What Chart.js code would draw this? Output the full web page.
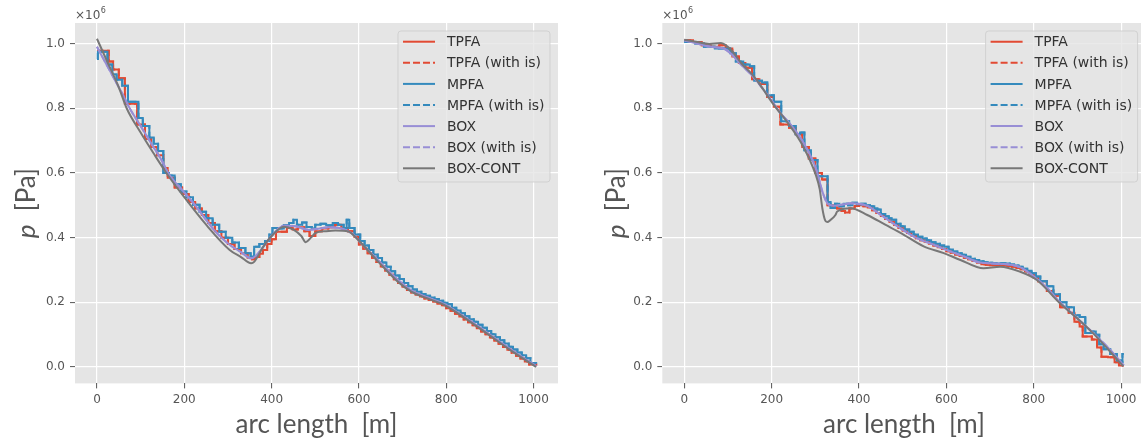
<!DOCTYPE html>
<html lang="en">
<head>
<meta charset="UTF-8">
<title>Pressure along arc length</title>
<script src="https://cdn.jsdelivr.net/npm/chart.js"></script>
<style>
    html, body { margin: 0; padding: 0; background: #fff; overflow: hidden; width: 1141px; height: 444px; }
    .panel { position: absolute; top: 0; height: 444px; }
    #left { left: 0; width: 570px; }
    #right { left: 590px; width: 560px; }
</style>
</head>
<body>
<div class="panel" id="left"><canvas id="chaLeft" width="570" height="444"></canvas></div>
<div class="panel" id="right"><canvas id="chaRight" width="560" height="444"></canvas></div>

<script>
// tick labels
const xTickValues = [0, 200, 400, 600, 800, 1000];
const yTickValues = [0.0, 0.2, 0.4, 0.6, 0.8, 1.0];

const seriesNames = ['TPFA', 'TPFA (with is)', 'MPFA', 'MPFA (with is)', 'BOX', 'BOX (with is)', 'BOX-CONT'];

// left panel: [arc length (m), p (x1e6 Pa)]
const leftTpfa = [[0,0.978],[27,0.945],[37,0.92],[50,0.893],[64,0.814],[92,0.75],[110,0.705],[124,0.68],[138,0.655],[152,0.615],[162,0.585],[178,0.555],[195,0.535],[210,0.51],[225,0.49],[240,0.47],[255,0.445],[270,0.42],[285,0.4],[300,0.38],[315,0.365],[330,0.352],[345,0.338],[355,0.333],[362,0.34],[372,0.35],[380,0.362],[390,0.38],[400,0.395],[410,0.418],[422,0.418],[435,0.43],[448,0.425],[460,0.432],[475,0.42],[487,0.405],[500,0.42],[515,0.428],[530,0.432],[545,0.44],[560,0.43],[575,0.42],[590,0.403],
    [600,0.379],[610,0.366],[620,0.352],[630,0.338],[640,0.325],[650,0.311],[660,0.298],[670,0.285],[680,0.271],[690,0.26],[700,0.249],[710,0.238],[720,0.23],[730,0.224],[740,0.218],[750,0.212],[760,0.207],[770,0.202],[780,0.196],[790,0.191],[800,0.182],[810,0.174],[820,0.165],[830,0.156],[840,0.147],[850,0.138],[860,0.129],[870,0.12],[880,0.11],[890,0.101],[900,0.091],[910,0.081],[920,0.072],[930,0.062],[940,0.053],[950,0.044],[960,0.035],[970,0.026],[980,0.017],[990,0.008],[1006,0.004]];
const leftMpfa = [[0,0.952],[2,0.975],[24,0.935],[35,0.905],[45,0.888],[58,0.87],[71,0.82],[95,0.77],[105,0.745],[120,0.71],[130,0.69],[140,0.668],[152,0.6],[165,0.592],[178,0.565],[192,0.543],[205,0.525],[220,0.502],[235,0.48],[250,0.46],[265,0.44],[280,0.418],[295,0.4],[310,0.385],[325,0.368],[340,0.352],[352,0.342],[360,0.372],[372,0.38],[385,0.39],[395,0.41],[402,0.43],[415,0.428],[428,0.438],[440,0.445],[450,0.455],[458,0.44],[470,0.447],[480,0.433],[492,0.428],[500,0.44],[512,0.443],[525,0.438],[540,0.445],[552,0.44],[565,0.43],[572,0.455],[578,0.43],[590,0.41],
    [603,0.39],[613,0.376],[623,0.362],[633,0.348],[643,0.337],[653,0.323],[663,0.31],[673,0.296],[683,0.283],[693,0.272],[703,0.26],[713,0.25],[723,0.24],[733,0.233],[743,0.226],[753,0.22],[763,0.215],[773,0.21],[783,0.205],[793,0.199],[803,0.194],[813,0.183],[823,0.175],[833,0.166],[843,0.157],[853,0.148],[863,0.14],[873,0.131],[883,0.121],[893,0.111],[903,0.101],[913,0.092],[923,0.083],[933,0.073],[943,0.063],[953,0.054],[963,0.045],[973,0.036],[983,0.027],[993,0.012],[1006,0.01]];
const leftBox = [[0,0.99],[20,0.94],[40,0.89],[60,0.84],[75,0.8],[100,0.745],[125,0.69],[150,0.635],[163,0.6],[200,0.54],[225,0.5],[250,0.455],[268,0.424],[285,0.4],[304,0.378],[330,0.355],[353,0.336],[365,0.345],[380,0.37],[400,0.405],[428,0.437],[455,0.435],[485,0.424],[510,0.428],[531,0.432],[555,0.43],[572,0.422],[587,0.41],[600,0.39],[644,0.33],[689,0.27],[720,0.237],[757,0.215],[795,0.195],[830,0.165],[871,0.128],[910,0.09],[946,0.056],[980,0.025],[1006,0.003]];
const leftCont = [[0,1.015],[25,0.94],[50,0.865],[68,0.8],[100,0.725],[130,0.66],[159,0.6],[200,0.525],[250,0.44],[304,0.362],[330,0.34],[353,0.321],[360,0.325],[380,0.37],[400,0.405],[428,0.434],[450,0.425],[468,0.405],[478,0.386],[490,0.4],[500,0.414],[525,0.42],[546,0.422],[576,0.419],[591,0.403],[644,0.326],[689,0.264],[720,0.233],[757,0.212],[795,0.192],[871,0.125],[946,0.053],[1006,0.0]];

// right panel
const rightTpfa = [[0,1.01],[20,1.005],[40,0.995],[60,0.99],[80,0.995],[95,0.985],[110,0.96],[125,0.94],[140,0.925],[155,0.89],[172,0.875],[190,0.835],[205,0.805],[220,0.75],[240,0.74],[255,0.72],[270,0.68],[285,0.645],[300,0.6],[315,0.58],
    [328,0.5],[340,0.493],[350,0.49],[360,0.482],[368,0.478],[378,0.49],[390,0.498],[400,0.5],[410,0.497],[420,0.493],[430,0.485],[440,0.476],[450,0.467],[460,0.458],[470,0.449],[480,0.44],[490,0.43],[500,0.422],[510,0.414],[520,0.406],[530,0.398],[540,0.392],[550,0.387],[560,0.382],[570,0.376],[580,0.37],[590,0.365],[600,0.358],[610,0.353],[620,0.348],[630,0.343],[640,0.338],[650,0.333],[660,0.328],[670,0.323],[680,0.318],[690,0.316],[700,0.315],[710,0.315],[720,0.315],[730,0.314],[740,0.312],[750,0.31],[760,0.306],[770,0.302],[780,0.295],[790,0.287],[800,0.277],
    [810,0.265],[830,0.235],[845,0.22],[860,0.185],[880,0.168],[893,0.14],[905,0.125],[912,0.094],[933,0.085],[945,0.06],[955,0.032],[970,0.03],[985,0.015],[995,0.005],[1006,0.005]];
const rightMpfa = [[0,1.005],[25,1.0],[45,0.99],[70,0.985],[90,0.985],[105,0.97],[118,0.945],[135,0.935],[150,0.93],[160,0.885],[178,0.88],[190,0.84],[205,0.82],[222,0.76],[240,0.745],[255,0.72],[265,0.725],[275,0.67],[290,0.64],[305,0.59],[318,0.59],
    [328,0.51],[335,0.492],[345,0.505],[355,0.497],[365,0.505],[375,0.5],[385,0.508],[395,0.503],[405,0.505],[415,0.5],[425,0.497],[435,0.49],[442,0.487],[450,0.473],[460,0.466],[468,0.46],[475,0.455],[485,0.443],[495,0.435],[505,0.425],[515,0.418],[525,0.41],[535,0.403],[545,0.397],[555,0.392],[565,0.386],[575,0.381],[585,0.376],[595,0.372],[605,0.363],[615,0.357],[625,0.352],[635,0.347],[645,0.341],[655,0.335],[665,0.331],[675,0.327],[685,0.324],[695,0.322],[705,0.321],[715,0.32],[725,0.321],[735,0.32],[745,0.317],[755,0.314],[765,0.31],[775,0.304],[785,0.298],[795,0.29],[805,0.28],
    [815,0.265],[830,0.25],[845,0.225],[860,0.2],[875,0.185],[892,0.16],[905,0.155],[918,0.105],[935,0.11],[942,0.1],[950,0.07],[960,0.055],[975,0.04],[990,0.02],[1000,0.015],[1003,0.04],[1006,0.04]];
const rightBox = [[0,1.01],[30,1.0],[60,0.99],[90,0.985],[110,0.965],[130,0.935],[156,0.9],[180,0.86],[202,0.82],[220,0.785],[240,0.755],[270,0.7],[301,0.615],[316,0.543],[324,0.515],[331,0.502],[345,0.499],[365,0.503],[381,0.506],[419,0.498],[450,0.47],[496,0.428],[530,0.4],[571,0.378],[600,0.362],[640,0.342],[677,0.323],[723,0.319],[768,0.309],[800,0.28],[830,0.245],[860,0.2],[900,0.15],[936,0.105],[970,0.06],[1006,0.005]];
const rightCont = [[0,1.012],[30,1.005],[57,0.999],[84,1.002],[107,0.981],[130,0.94],[156,0.904],[180,0.86],[202,0.816],[240,0.749],[270,0.687],[301,0.594],[310,0.55],[316,0.491],[322,0.455],[327,0.448],[335,0.455],[346,0.47],[350,0.481],[381,0.491],[419,0.47],[460,0.44],[496,0.414],[548,0.373],[594,0.352],[632,0.331],[685,0.305],[723,0.31],[768,0.295],[807,0.269],[860,0.197],[900,0.15],[936,0.104],[970,0.055],[1005,0.002]];

const seriesColors = ['#E24A33', '#E24A33', '#348ABD', '#348ABD', '#988ED5', '#988ED5', '#777777'];
const seriesDashed = [false, true, false, true, false, true, false];

const panelDecor = {
    id: 'panelDecor',
    beforeDraw(chart) {
        const a = chart.chartArea, ctx = chart.ctx;
        ctx.save();
        ctx.fillStyle = '#E5E5E5';
        ctx.fillRect(a.left, a.top, a.right - a.left, a.bottom - a.top);
        ctx.restore();
    },
    afterDatasetsDraw(chart) {
        // legend box, upper right
        const a = chart.chartArea, ctx = chart.ctx;
        const bw = 152, bh = 151;
        const bx = a.right - 8 - bw, by = a.top + 8;
        ctx.save();
        ctx.beginPath();
        ctx.roundRect(bx, by, bw, bh, 3);
        ctx.fillStyle = 'rgba(229,229,229,0.8)';
        ctx.fill();
        ctx.strokeStyle = 'rgba(204,204,204,0.8)';
        ctx.lineWidth = 1;
        ctx.stroke();
        ctx.font = '14px "DejaVu Sans"';
        ctx.textBaseline = 'middle';
        chart.data.datasets.forEach((ds, i) => {
            const y = by + 10.7 + i * 21.1;
            ctx.beginPath();
            ctx.setLineDash(ds.borderDash);
            ctx.strokeStyle = ds.borderColor;
            ctx.lineWidth = 2;
            ctx.moveTo(bx + 5, y);
            ctx.lineTo(bx + 37, y);
            ctx.stroke();
            ctx.setLineDash([]);
            ctx.fillStyle = '#333333';
            ctx.fillText(ds.label, bx + 49, y + 1);
        });
        ctx.restore();
    },
    afterDraw(chart) {
        const a = chart.chartArea, ctx = chart.ctx;
        ctx.save();
        ctx.fillStyle = '#555555';
        // offset text
        ctx.font = '12px "DejaVu Sans"';
        ctx.textBaseline = 'alphabetic';
        ctx.fillText('\u00d710', a.left, 19);
        const w = ctx.measureText('\u00d710').width;
        ctx.font = '8px "DejaVu Sans"';
        ctx.fillText('6', a.left + w + 0.5, 13);

        // x title
        ctx.font = '26px Lato';
        ctx.textAlign = 'center';
        ctx.fillText('arc length  [m]', (a.left + a.right) / 2, 433);

        // y title, italic p
        ctx.translate(35, (a.top + a.bottom) / 2);
        ctx.rotate(-Math.PI / 2);
        ctx.textAlign = 'left';
        ctx.font = 'italic 26px Lato';
        const wp = ctx.measureText('p').width;
        ctx.font = '26px Lato';
        const wr = ctx.measureText('  [Pa]').width;
        const x0 = -(wp + wr) / 2;
        ctx.font = 'italic 26px Lato';
        ctx.fillText('p', x0, 0);
        ctx.font = '26px Lato';
        ctx.fillText('  [Pa]', x0 + wp, 0);
        ctx.restore();
    }
};

function makePanel(canvasId, lists, axisWidth, padRight) {
    const datasets = lists.map((pts, i) => ({
        label: seriesNames[i],
        data: pts.map(p => ({ x: p[0], y: p[1] })),
        borderColor: seriesColors[i],
        borderWidth: 2,
        borderDash: seriesDashed[i] ? [7, 3] : [],
        stepped: i < 4,
        cubicInterpolationMode: i >= 4 ? 'monotone' : 'default',
        pointRadius: 0,
        fill: false,
        order: lists.length - i
    }));

    const tickFont = { family: 'DejaVu Sans', size: 12 };
    const grid = { color: '#ffffff', lineWidth: 1.2, tickColor: '#555555', tickLength: 5, tickWidth: 1 };

    return new Chart(document.getElementById(canvasId).getContext('2d'), {
        type: 'line',
        data: { datasets: datasets },
        options: {
            responsive: false,
            animation: false,
            events: [],
            layout: { padding: { top: 23, right: padRight, left: 0, bottom: 0 } },
            plugins: { legend: { display: false }, tooltip: { enabled: false } },
            scales: {
                x: {
                    type: 'linear',
                    min: -50.3,
                    max: 1056,
                    afterBuildTicks: s => { s.ticks = xTickValues.map(v => ({ value: v })); },
                    afterFit: s => { s.height = 60.6; },
                    grid: grid,
                    border: { display: false },
                    ticks: { color: '#555555', font: tickFont, padding: 4, maxRotation: 0, autoSkip: false,
                             callback: v => String(v) }
                },
                y: {
                    type: 'linear',
                    min: -0.0507,
                    max: 1.0637,
                    afterBuildTicks: s => { s.ticks = yTickValues.map(v => ({ value: v })); },
                    afterFit: s => { s.width = axisWidth; },
                    grid: grid,
                    border: { display: false },
                    ticks: { color: '#555555', font: tickFont, padding: 5, autoSkip: false,
                             callback: v => v.toFixed(1) }
                }
            }
        },
        plugins: [panelDecor]
    });
}

makePanel('chaLeft', [leftTpfa, leftTpfa, leftMpfa, leftMpfa, leftBox, leftBox, leftCont], 75, 12);
makePanel('chaRight', [rightTpfa, rightTpfa, rightMpfa, rightMpfa, rightBox, rightBox, rightCont], 72.3, 4.4);
</script>
</body>
</html>
